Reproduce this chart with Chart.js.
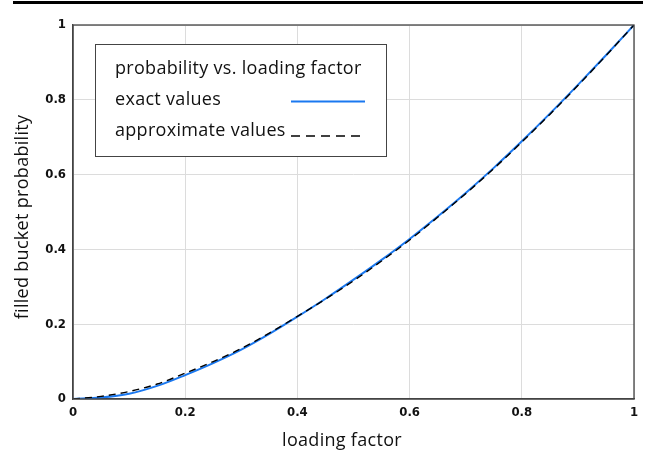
<!DOCTYPE html>
<html>
<head>
<meta charset="utf-8">
<script src="https://cdn.jsdelivr.net/npm/chart.js@4/dist/chart.umd.min.js"></script>
<style>
  html, body { margin: 0; padding: 0; background: #fff; }
  #wrap { position: relative; width: 656px; height: 454px; }
  #rule { position: absolute; left: 13px; top: 1px; width: 630px; height: 3px; background: #000; }
  #chart { position: absolute; left: 0; top: 0; }
  #overlay { position: absolute; left: 0; top: 0; pointer-events: none; }
  #overlay text { font-family: "Open Sans", sans-serif; font-size: 18px; letter-spacing: 0.3px; fill: #111; }
</style>
</head>
<body>
<div id="wrap">
  <div id="rule"></div>
  <canvas id="chart" width="656" height="454"></canvas>
  <svg id="overlay" width="656" height="454">
    <rect x="95.5" y="44.5" width="291" height="112" fill="#fff" stroke="#444" stroke-width="1"></rect>
    <text id="legTitle" x="115" y="74"></text>
    <text id="legExact" x="115" y="105"></text>
    <line id="sampleExact" x1="291" x2="365" y1="101.5" y2="101.5" stroke-width="2"></line>
    <text id="legApprox" x="115" y="135.5"></text>
    <line id="sampleApprox" x1="291" x2="365" y1="136" y2="136" stroke-width="1.6"></line>
    <text id="xAxisTitle" x="342" y="446" text-anchor="middle"></text>
    <text id="yAxisTitle" transform="translate(28,217) rotate(-90)" text-anchor="middle"></text>
  </svg>
</div>
<script>
// loading factor samples
const loadFactor = [0, 0.05, 0.1, 0.15, 0.2, 0.25, 0.3, 0.35, 0.4, 0.45, 0.5,
                    0.55, 0.6, 0.65, 0.7, 0.75, 0.8, 0.85, 0.9, 0.95, 1];
// filled bucket probability, exact
const exactValues = [0, 0.004, 0.014, 0.035, 0.064, 0.096, 0.132, 0.174, 0.220, 0.268, 0.319,
                     0.372, 0.428, 0.488, 0.551, 0.618, 0.689, 0.763, 0.840, 0.919, 1];
// filled bucket probability, approximation
const approxValues = [0, 0.007, 0.020, 0.040, 0.069, 0.100, 0.135, 0.176, 0.221, 0.267, 0.316,
                      0.369, 0.425, 0.486, 0.549, 0.616, 0.687, 0.761, 0.838, 0.918, 1];

const xTickValues = [0, 0.2, 0.4, 0.6, 0.8, 1];
const xTickLabels = ['0', '0.2', '0.4', '0.6', '0.8', '1'];
const yTickValues = [0, 0.2, 0.4, 0.6, 0.8, 1];
const yTickLabels = ['0', '0.2', '0.4', '0.6', '0.8', '1'];

const legendTitle = 'probability vs. loading factor';
const seriesNames = ['exact values', 'approximate values'];
const xTitle = 'loading factor';
const yTitle = 'filled bucket probability';

const exactColor = '#1a78f0';
const approxColor = '#000000';
const approxDash = [7, 5];

// legend box and axis captions (SVG overlay)
document.getElementById('legTitle').textContent = legendTitle;
document.getElementById('legExact').textContent = seriesNames[0];
document.getElementById('legApprox').textContent = seriesNames[1];
document.getElementById('xAxisTitle').textContent = xTitle;
document.getElementById('yAxisTitle').textContent = yTitle;
document.getElementById('sampleExact').setAttribute('stroke', exactColor);
const sa = document.getElementById('sampleApprox');
sa.setAttribute('stroke', approxColor);
sa.setAttribute('stroke-dasharray', '9 6');

const toPoints = ys => loadFactor.map((x, i) => ({ x: x, y: ys[i] }));

const frame = {
  id: 'frame',
  afterDraw(chart) {
    const { ctx, chartArea: a } = chart;
    ctx.save();
    ctx.strokeStyle = '#444';
    ctx.lineWidth = 1.3;
    ctx.strokeRect(a.left, a.top, a.right - a.left, a.bottom - a.top);
    ctx.restore();
  }
};

const tickFont = { family: '"DejaVu Sans Condensed", "DejaVu Sans", sans-serif', size: 13, weight: 'bold' };

new Chart(document.getElementById('chart'), {
  type: 'line',
  data: {
    datasets: [
      {
        label: seriesNames[0],
        data: toPoints(exactValues),
        borderColor: exactColor,
        borderWidth: 2,
        pointRadius: 0,
        cubicInterpolationMode: 'monotone',
        order: 2
      },
      {
        label: seriesNames[1],
        data: toPoints(approxValues),
        borderColor: approxColor,
        borderWidth: 1.4,
        borderDash: approxDash,
        pointRadius: 0,
        cubicInterpolationMode: 'monotone',
        order: 1
      }
    ]
  },
  options: {
    responsive: false,
    animation: false,
    layout: { padding: { left: 0, right: 22, top: 25, bottom: 0 } },
    plugins: { legend: { display: false }, tooltip: { enabled: false } },
    scales: {
      x: {
        type: 'linear', min: 0, max: 1,
        afterFit(s) { s.height = 55; },
        afterBuildTicks(s) { s.ticks = xTickValues.map(v => ({ value: v })); },
        ticks: {
          padding: 6, color: '#111', font: tickFont, maxRotation: 0,
          callback: v => xTickLabels[xTickValues.indexOf(v)]
        },
        grid: { color: '#dcdcdc', lineWidth: 1, drawTicks: false },
        border: { display: true, color: '#444', width: 1.3 },
        title: { display: false }
      },
      y: {
        type: 'linear', min: 0, max: 1,
        afterFit(s) { s.width = 73; },
        afterBuildTicks(s) { s.ticks = yTickValues.map(v => ({ value: v })); },
        ticks: {
          padding: 7, color: '#111', font: tickFont,
          callback: v => yTickLabels[yTickValues.indexOf(v)]
        },
        grid: { color: '#dcdcdc', lineWidth: 1, drawTicks: false },
        border: { display: true, color: '#444', width: 1.3 },
        title: { display: false }
      }
    }
  },
  plugins: [frame]
});
</script>
</body>
</html>
